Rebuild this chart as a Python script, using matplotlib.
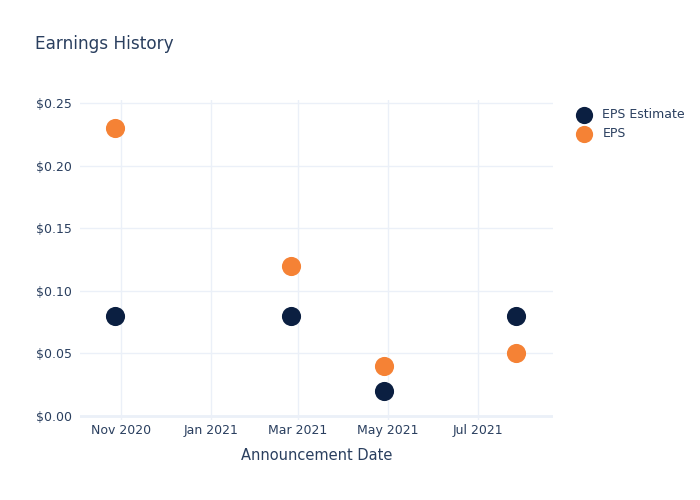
import matplotlib
matplotlib.use("Agg")
import matplotlib.pyplot as plt
import matplotlib.dates as mdates
from matplotlib.ticker import FuncFormatter
from datetime import datetime

# data
dates = [datetime(2020, 10, 28), datetime(2021, 2, 24), datetime(2021, 4, 28), datetime(2021, 7, 27)]
eps_estimate = [0.08, 0.08, 0.02, 0.08]
eps_actual = [0.23, 0.12, 0.04, 0.05]

text_col = "#2a3f5f"
grid_col = "#EBF0F8"
navy = "#0B1F41"
orange = "#F58235"

fig = plt.figure(figsize=(7, 5), dpi=100)
ax = fig.add_axes([80 / 700, 80 / 500, 473 / 700, 320 / 500])

ax.scatter(dates, eps_estimate, s=190, color=navy, label="EPS Estimate", zorder=3, linewidths=0)
ax.scatter(dates, eps_actual, s=190, color=orange, label="EPS", zorder=3, linewidths=0)

ax.set_xlim(datetime(2020, 10, 4), datetime(2021, 8, 21))
ax.set_ylim(-0.0032, 0.2524)
ax.xaxis.set_major_locator(mdates.MonthLocator(bymonth=[1, 3, 5, 7, 9, 11]))
ax.xaxis.set_major_formatter(mdates.DateFormatter("%b %Y"))
ax.set_yticks([0, 0.05, 0.10, 0.15, 0.20, 0.25])
ax.yaxis.set_major_formatter(FuncFormatter(lambda v, p: f"${v:.2f}"))

ax.grid(True, color=grid_col, linewidth=1)
ax.axhline(0, color=grid_col, linewidth=2, zorder=1)
ax.set_axisbelow(True)
for s in ax.spines.values():
    s.set_visible(False)
ax.tick_params(axis="y", length=0, labelsize=9, labelcolor=text_col, pad=6)
ax.tick_params(axis="x", length=0, labelsize=9, labelcolor=text_col, pad=3)

ax.set_xlabel("Announcement Date", fontsize=10.5, color=text_col, labelpad=8)
fig.text(35 / 700, 1 - 44 / 500, "Earnings History", fontsize=12.2, color=text_col, va="center")

fig.legend(loc="upper left", bbox_to_anchor=(566 / 700, 1 - 103 / 500), frameon=False,
           fontsize=9, labelcolor=text_col, handletextpad=0.5, labelspacing=0.5,
           markerscale=0.9, borderaxespad=0)

fig.savefig("out.png", dpi=100, facecolor="white")
